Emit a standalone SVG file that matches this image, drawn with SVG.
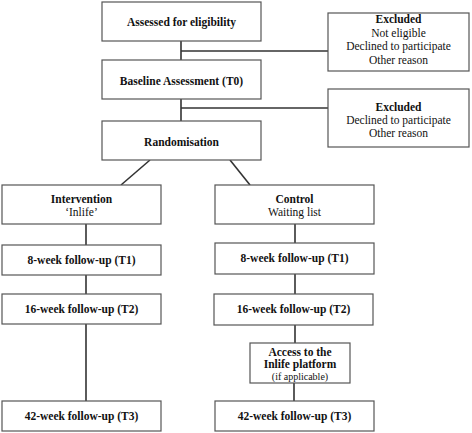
<svg xmlns="http://www.w3.org/2000/svg" width="472" height="433" viewBox="0 0 472 433">
<style>
.box{fill:#fff;stroke:#555;stroke-width:1.2}
.ln{stroke:#333;stroke-width:1.6;fill:none}
text{font-family:'Liberation Serif','Times New Roman','DejaVu Serif',serif;fill:#111;text-anchor:middle}
.b{font-weight:bold;font-size:11.5px}
.r{font-size:11.5px}
.s{font-size:10px}
</style>
<rect width="472" height="433" fill="#fff"/>
<g id="connectors">
<line class="ln" x1="181" y1="41" x2="181" y2="60"/>
<line class="ln" x1="181" y1="51" x2="328" y2="51"/>
<line class="ln" x1="181" y1="99" x2="181" y2="121"/>
<line class="ln" x1="181" y1="108" x2="328" y2="108"/>
<line class="ln" x1="150" y1="160" x2="121" y2="185"/>
<line class="ln" x1="230" y1="160" x2="250" y2="185"/>
<line class="ln" x1="86" y1="224" x2="86" y2="245"/>
<line class="ln" x1="86" y1="275" x2="86" y2="294"/>
<line class="ln" x1="86" y1="324" x2="86" y2="401"/>
<line class="ln" x1="295" y1="224" x2="295" y2="243"/>
<line class="ln" x1="295" y1="274" x2="295" y2="294"/>
<line class="ln" x1="295" y1="325" x2="295" y2="343"/>
<line class="ln" x1="294" y1="383" x2="294" y2="401"/>
</g>
<g id="assessed"><rect class="box" x="102" y="2" width="159" height="39"/><text class="b" x="181.5" y="26">Assessed for eligibility</text></g>
<g id="excluded1"><rect class="box" x="328" y="13" width="141" height="58"/>
<text class="b" x="398.5" y="23">Excluded</text>
<text class="r" x="398.5" y="37">Not eligible</text>
<text class="r" x="398.5" y="50">Declined to participate</text>
<text class="r" x="398.5" y="64">Other reason</text></g>
<g id="baseline"><rect class="box" x="102" y="60" width="159" height="39"/><text class="b" x="181.5" y="85">Baseline Assessment (T0)</text></g>
<g id="excluded2"><rect class="box" x="328" y="89" width="141" height="58"/>
<text class="b" x="398.5" y="111">Excluded</text>
<text class="r" x="398.5" y="124">Declined to participate</text>
<text class="r" x="398.5" y="137">Other reason</text></g>
<g id="randomisation"><rect class="box" x="102" y="121" width="159" height="39"/><text class="b" x="181.5" y="146">Randomisation</text></g>
<g id="intervention"><rect class="box" x="2" y="185" width="159" height="39"/>
<text class="b" x="81.5" y="203">Intervention</text><text class="r" x="81.5" y="216">‘Inlife’</text></g>
<g id="control"><rect class="box" x="215" y="185" width="159" height="39"/>
<text class="b" x="294.5" y="203">Control</text><text class="r" x="294.5" y="216">Waiting list</text></g>
<g id="t1-int"><rect class="box" x="2" y="245" width="159" height="30"/><text class="b" x="81.5" y="264">8-week follow-up (T1)</text></g>
<g id="t1-ctl"><rect class="box" x="215" y="243" width="159" height="31"/><text class="b" x="294.5" y="262">8-week follow-up (T1)</text></g>
<g id="t2-int"><rect class="box" x="2" y="294" width="159" height="30"/><text class="b" x="81.5" y="313">16-week follow-up (T2)</text></g>
<g id="t2-ctl"><rect class="box" x="214" y="294" width="159" height="31"/><text class="b" x="293.5" y="313">16-week follow-up (T2)</text></g>
<g id="access"><rect class="box" x="250" y="343" width="100" height="40"/>
<text class="b" x="300" y="356">Access to the</text>
<text class="b" x="300" y="368">Inlife platform</text>
<text class="s" x="300" y="380">(if applicable)</text></g>
<g id="t3-int"><rect class="box" x="2" y="401" width="159" height="30"/><text class="b" x="81.5" y="420">42-week follow-up (T3)</text></g>
<g id="t3-ctl"><rect class="box" x="215" y="401" width="159" height="30"/><text class="b" x="294.5" y="420">42-week follow-up (T3)</text></g>
</svg>
